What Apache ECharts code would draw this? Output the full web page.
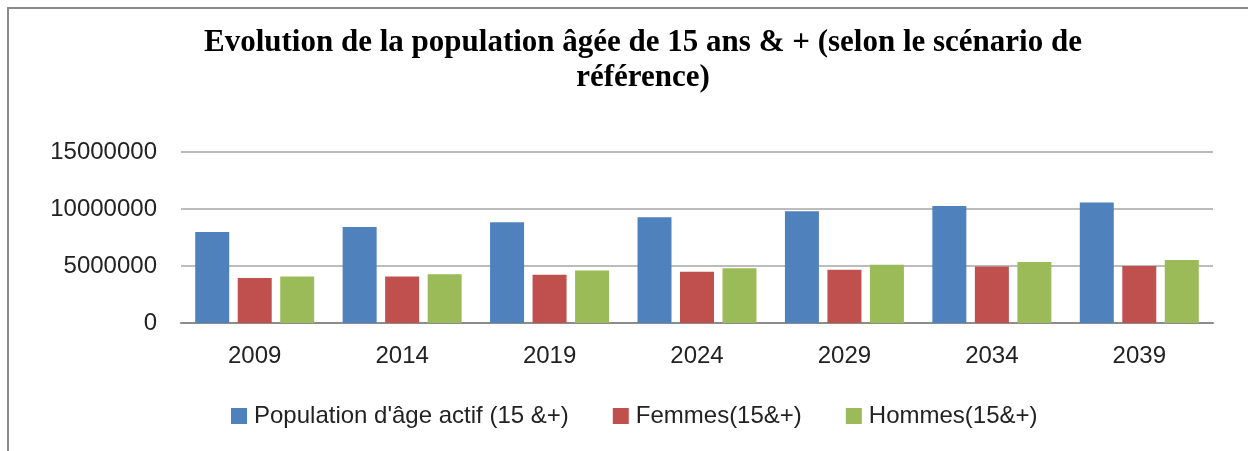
<!DOCTYPE html>
<html>
<head>
<meta charset="utf-8">
<script src="https://cdn.jsdelivr.net/npm/echarts@6/dist/echarts.min.js"></script>
<style>
  html, body { margin: 0; padding: 0; background: #fff; }
  #wrap { position: relative; width: 1248px; height: 451px; }
  #frame { position: absolute; left: 7px; top: 7px; right: 0; bottom: 0;
           border-left: 2px solid #8a8a8a; border-top: 2px solid #8a8a8a; }
  #chart { position: absolute; left: 0; top: 0; width: 1248px; height: 451px; }
</style>
</head>
<body>
<div id="wrap">
  <div id="frame"></div>
  <div id="chart"></div>
</div>
<script>
const years = ['2009', '2014', '2019', '2024', '2029', '2034', '2039'];
const seriesNames = ["Population d'âge actif (15 &+)", 'Femmes(15&+)', 'Hommes(15&+)'];
const actifs = [7980000, 8420000, 8830000, 9270000, 9800000, 10260000, 10560000];
const femmes = [3950000, 4070000, 4240000, 4500000, 4680000, 4950000, 5000000];
const hommes = [4070000, 4270000, 4600000, 4800000, 5120000, 5350000, 5530000];
const colors = ['#4f81bd', '#c0504d', '#9bbb59'];

const chart = echarts.init(document.getElementById('chart'));

const barSeries = [actifs, femmes, hommes].map((vals, i) => ({
    name: seriesNames[i],
    type: 'bar',
    data: vals,
    barWidth: 34,
    barGap: '25%',
    itemStyle: { color: colors[i] },
    animation: false
}));

chart.setOption({
    backgroundColor: 'transparent',
    title: {
        text: 'Evolution de la population âgée de 15 ans & + (selon le scénario de\nréférence)',
        left: 638,
        top: 20,
        textAlign: 'center',
        textStyle: {
            fontFamily: 'Liberation Serif',
            fontWeight: 'bold',
            fontSize: 31,
            lineHeight: 35,
            color: '#000'
        }
    },
    legend: {
        bottom: 18,
        left: 226,
        itemWidth: 16,
        itemHeight: 16,
        itemGap: 44,
        icon: 'rect',
        textStyle: { fontFamily: 'Liberation Sans', fontSize: 24, color: '#222', padding: [0, 0, 0, 2] }
    },
    grid: { left: 181, right: 35, top: 152, bottom: 128 },
    xAxis: {
        type: 'category',
        data: years,
        axisLine: { lineStyle: { color: '#8c8c8c', width: 2 } },
        axisTick: { show: false },
        axisLabel: { fontFamily: 'Liberation Sans', fontSize: 24, color: '#222', margin: 21 }
    },
    yAxis: {
        type: 'value',
        min: 0,
        max: 15000000,
        interval: 5000000,
        axisLine: { show: false },
        axisTick: { show: false },
        splitLine: { lineStyle: { color: '#a6a6a6', width: 1.5 } },
        axisLabel: {
            fontFamily: 'Liberation Sans', fontSize: 24, color: '#222', margin: 24,
            formatter: v => String(v)
        }
    },
    series: barSeries
});
</script>
</body>
</html>
